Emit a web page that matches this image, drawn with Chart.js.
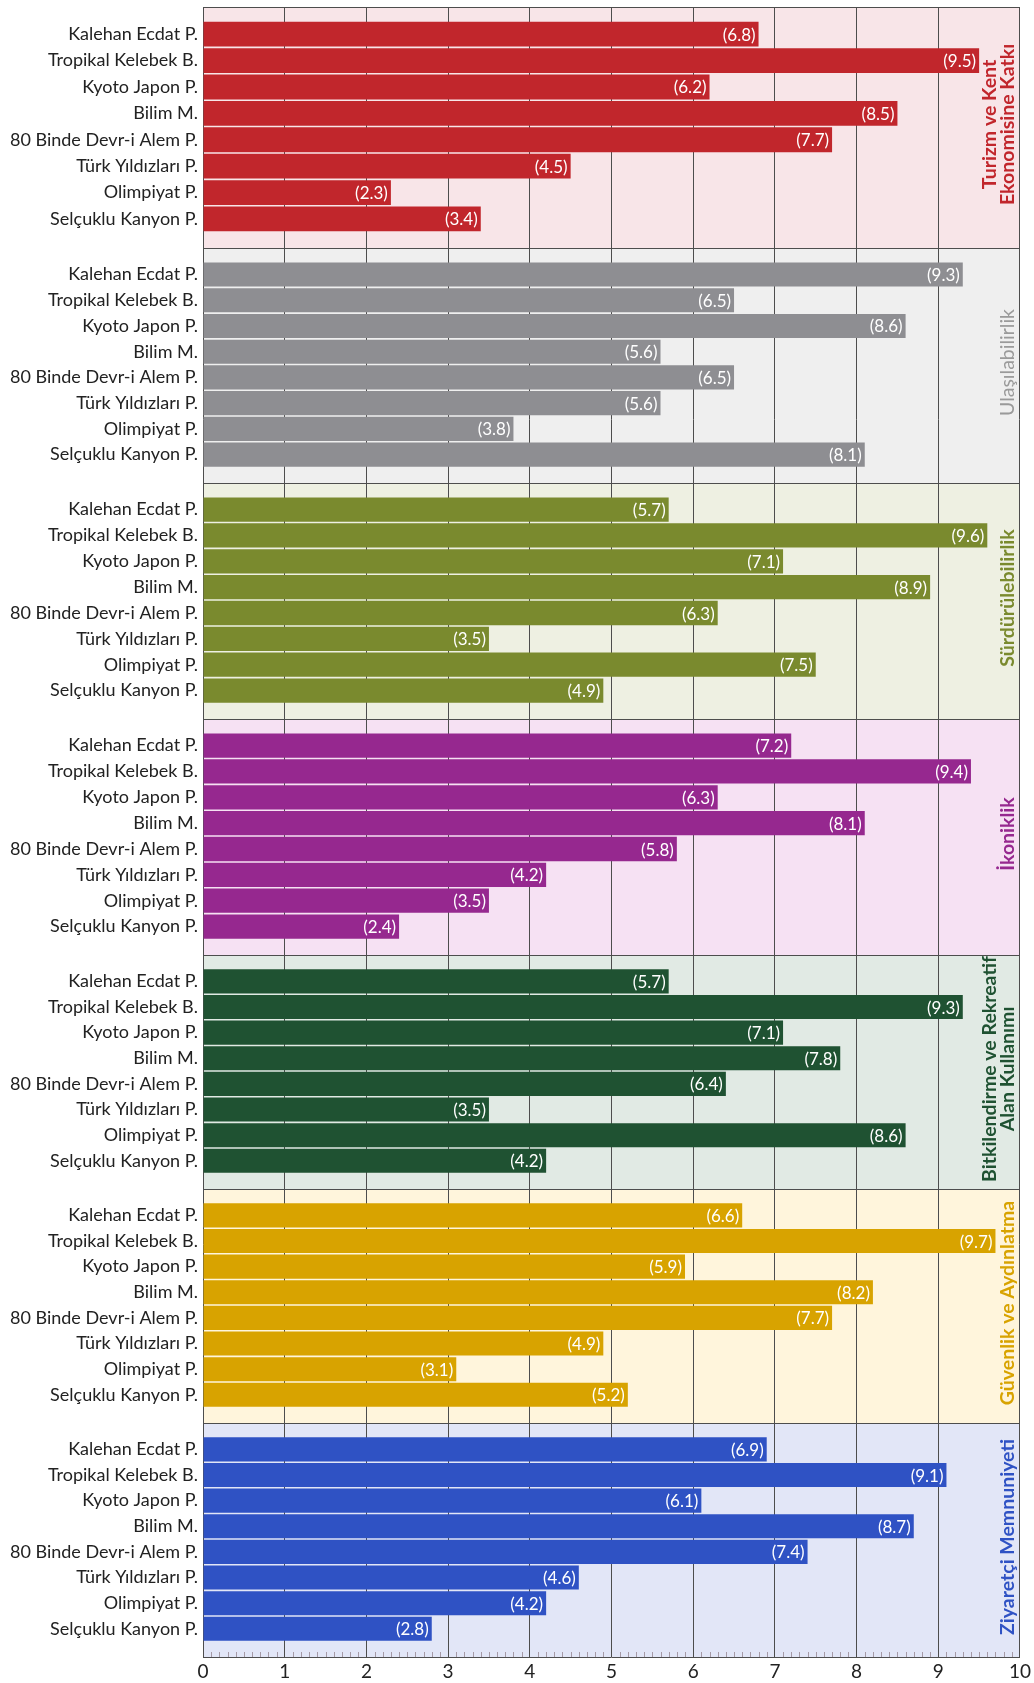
<!DOCTYPE html>
<html><head><meta charset="utf-8">
<script src="https://cdn.jsdelivr.net/npm/chart.js@4.4.1/dist/chart.umd.min.js"></script>
<style>html,body{margin:0;padding:0;background:#fff;}</style>
</head><body>
<canvas id="c" width="1034" height="1683"></canvas>
<script>
// ---- data ----
const categories = ["Kalehan Ecdat P.", "Tropikal Kelebek B.", "Kyoto Japon P.", "Bilim M.", "80 Binde Devr-i Alem P.", "Türk Yıldızları P.", "Olimpiyat P.", "Selçuklu Kanyon P."];
const panelTitles = [
  ["Turizm ve Kent", "Ekonomisine Katkı"],
  ["Ulaşılabilirlik"],
  ["Sürdürülebilirlik"],
  ["İkoniklik"],
  ["Bitkilendirme ve Rekreatif", "Alan Kullanımı"],
  ["Güvenlik ve Aydınlatma"],
  ["Ziyaretçi Memnuniyeti"]
];
const turizm = [6.8, 9.5, 6.2, 8.5, 7.7, 4.5, 2.3, 3.4];
const ulasilabilirlik = [9.3, 6.5, 8.6, 5.6, 6.5, 5.6, 3.8, 8.1];
const surdurulebilirlik = [5.7, 9.6, 7.1, 8.9, 6.3, 3.5, 7.5, 4.9];
const ikoniklik = [7.2, 9.4, 6.3, 8.1, 5.8, 4.2, 3.5, 2.4];
const bitkilendirme = [5.7, 9.3, 7.1, 7.8, 6.4, 3.5, 8.6, 4.2];
const guvenlik = [6.6, 9.7, 5.9, 8.2, 7.7, 4.9, 3.1, 5.2];
const memnuniyet = [6.9, 9.1, 6.1, 8.7, 7.4, 4.6, 4.2, 2.8];
const xTickValues = [0, 1, 2, 3, 4, 5, 6, 7, 8, 9, 10];

// ---- styles ----
const seriesList = [turizm, ulasilabilirlik, surdurulebilirlik, ikoniklik, bitkilendirme, guvenlik, memnuniyet];
const barColors = ["#C1262C", "#8E8E92", "#7A8A2E", "#96288F", "#1F5232", "#D8A300", "#2F52C4"];
const panelBgs = ["#F8E5E8", "#EFEFEF", "#EEF0E2", "#F6E1F3", "#E1EAE4", "#FFF5DC", "#E2E6F7"];
const titleColors = ["#C1262C", "#9A9A9A", "#7A8A2E", "#96288F", "#1F5232", "#D8A300", "#2F52C4"];
const titleBold = [true, false, true, true, true, true, true];
const panelWeights = [241, 235, 236, 236, 234, 234, 234];
const panelIds = seriesList.map((_, i) => "p" + i);
const FONT = "Lato, 'Open Sans', sans-serif";

const scales = {
  x: {
    type: "linear", min: 0, max: 10, position: "bottom",
    afterBuildTicks: (s) => { s.ticks = xTickValues.map(v => ({ value: v })); },
    grid: { color: "#4d4d4d", lineWidth: 1, drawTicks: false },
    border: { display: true, color: "#4d4d4d" },
    ticks: { padding: 3, color: "#222", font: { family: FONT, size: 19 } },
    afterFit: (s) => { s.height = 26; }
  }
};
panelIds.forEach((id, i) => {
  scales[id] = {
    type: "linear", position: "left", min: -1.03, max: 8.1, reverse: true,
    stack: "panels", stackWeight: panelWeights[i], weight: 10 - i, offset: false,
    afterBuildTicks: (s) => { s.ticks = categories.map((_, j) => ({ value: j })); },
    grid: { display: false, drawTicks: false },
    border: { display: false },
    ticks: {
      padding: 5, color: "#222", font: { family: FONT, size: 18 }, autoSkip: false,
      callback: (v) => categories[v]
    },
    afterFit: (s) => { s.width = 203; s.paddingTop = 0; s.paddingBottom = 0; }
  };
});

const panelPlugin = {
  id: "panels",
  beforeDraw(chart) {
    const { ctx, chartArea } = chart;
    ctx.save();
    ctx.fillStyle = "#fff";
    ctx.fillRect(0, 0, chart.width, chart.height);
    panelIds.forEach((id, i) => {
      const s = chart.scales[id];
      ctx.fillStyle = panelBgs[i];
      ctx.fillRect(chartArea.left, s.top, chartArea.right - chartArea.left, s.bottom - s.top);
    });
    ctx.restore();
  },
  beforeDatasetsDraw(chart) {
    const { ctx, chartArea } = chart;
    const xs = chart.scales.x;
    ctx.save();
    // minor ticks along bottom
    ctx.strokeStyle = "#a59aa6";
    ctx.lineWidth = 1;
    for (let k = 1; k < 100; k++) {
      if (k % 10 === 0) continue;
      const px = Math.round(xs.getPixelForValue(k / 10)) + 0.5;
      ctx.beginPath();
      ctx.moveTo(px, chartArea.bottom - 5);
      ctx.lineTo(px, chartArea.bottom);
      ctx.stroke();
    }
    // panel borders
    ctx.strokeStyle = "#4d4d4d";
    panelIds.forEach((id) => {
      const s = chart.scales[id];
      const y = Math.round(s.top) + 0.5;
      ctx.beginPath();
      ctx.moveTo(chartArea.left, y);
      ctx.lineTo(chartArea.right, y);
      ctx.stroke();
    });
    ctx.restore();
  },
  afterDatasetsDraw(chart) {
    const { ctx } = chart;
    ctx.save();
    // value labels
    ctx.font = "17px " + FONT;
    ctx.fillStyle = "#fff";
    ctx.textAlign = "right";
    ctx.textBaseline = "middle";
    chart.data.datasets.forEach((ds, di) => {
      const meta = chart.getDatasetMeta(di);
      meta.data.forEach((bar, j) => {
        ctx.fillText("(" + seriesList[di][j] + ")", bar.x - 3, bar.y + 1);
      });
    });
    // panel titles
    panelIds.forEach((id, i) => {
      const s = chart.scales[id];
      const cy = (s.top + s.bottom) / 2 - 3;
      const lines = panelTitles[i];
      ctx.save();
      ctx.fillStyle = titleColors[i];
      ctx.font = (titleBold[i] ? "bold " : "") + "19.5px " + FONT;
      ctx.textAlign = "center";
      ctx.textBaseline = "middle";
      lines.forEach((ln, k) => {
        const x = 1008 - (lines.length - 1 - k) * 18;
        ctx.save();
        ctx.translate(x, cy);
        ctx.rotate(-Math.PI / 2);
        ctx.fillText(ln, 0, 0);
        ctx.restore();
      });
      ctx.restore();
    });
    ctx.restore();
  }
};

new Chart(document.getElementById("c"), {
  type: "bar",
  data: {
    labels: categories,
    datasets: seriesList.map((vals, i) => ({
      label: panelTitles[i].join(" "),
      data: vals.map((v, j) => ({ x: v, y: j })),
      yAxisID: panelIds[i],
      xAxisID: "x",
      backgroundColor: barColors[i],
      borderWidth: 0,
      grouped: false,
      barPercentage: 0.94,
      categoryPercentage: 1
    }))
  },
  options: {
    indexAxis: "y",
    responsive: false,
    animation: false,
    devicePixelRatio: 1,
    layout: { padding: { top: 7, right: 11, left: 0, bottom: 0 } },
    plugins: { legend: { display: false }, tooltip: { enabled: false } },
    scales
  },
  plugins: [panelPlugin]
});
</script>
</body></html>
